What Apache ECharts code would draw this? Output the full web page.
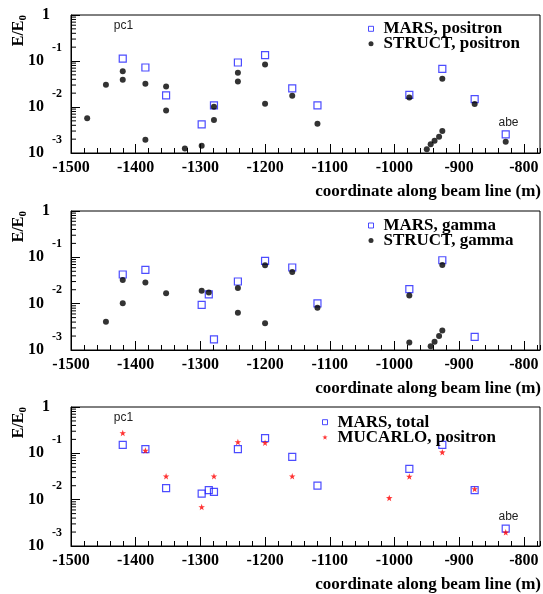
<!DOCTYPE html>
<html>
<head>
<meta charset="utf-8">
<script src="https://cdn.jsdelivr.net/npm/echarts@6/dist/echarts.min.js"></script>
<style>html,body{margin:0;padding:0;background:#fff}#c{width:543px;height:594px}</style>
</head>
<body>
<div id="c"></div>
<script>
// ---- Data (coordinate along beam line in m, E/E0) ----
const marsPosX = [-1420,-1385,-1353,-1298,-1279,-1242,-1200,-1158,-1119,-977,-926,-876,-828];
const marsPosY = [0.113,0.0723,0.0179,0.0042,0.0108,0.0927,0.134,0.0253,0.0108,0.0184,0.0674,0.0148,0.00254];
const structPosX = [-1475,-1446,-1420,-1420,-1385,-1385,-1353,-1353,-1324,-1298,-1279,-1279,-1242,-1242,-1200,-1200,-1158,-1119,-977,-926,-876,-828,-950,-944,-938,-931,-926];
const structPosY = [0.00566,0.0303,0.0601,0.0389,0.0319,0.00194,0.028,0.00844,0.00126,0.00144,0.0101,0.0052,0.0552,0.0359,0.0839,0.0117,0.0175,0.00432,0.0161,0.0409,0.0116,0.00176,0.0012,0.00155,0.00185,0.00226,0.003];

const marsGamX = [-1420,-1385,-1298,-1287,-1279,-1242,-1200,-1158,-1119,-977,-926,-876];
const marsGamY = [0.0426,0.0535,0.00942,0.0158,0.00169,0.0301,0.0836,0.0603,0.0101,0.0205,0.0866,0.00192];
const structGamX = [-1446,-1420,-1420,-1385,-1353,-1298,-1287,-1242,-1242,-1200,-1200,-1158,-1119,-977,-977,-926,-944,-938,-931,-926];
const structGamY = [0.00405,0.0326,0.01025,0.0286,0.0168,0.0189,0.0174,0.0219,0.00634,0.0676,0.0038,0.0485,0.00813,0.015,0.00146,0.0686,0.0012,0.0015,0.002,0.00264];

const marsTotX = [-1420,-1385,-1353,-1298,-1287,-1279,-1242,-1200,-1158,-1119,-977,-926,-876,-828];
const marsTotY = [0.153,0.123,0.0177,0.0135,0.016,0.0147,0.123,0.213,0.084,0.0201,0.0462,0.153,0.016,0.00236];
const mucarloX = [-1420,-1385,-1353,-1298,-1279,-1242,-1200,-1158,-1008,-977,-926,-876,-828];
const mucarloY = [0.274,0.115,0.0321,0.00695,0.0321,0.175,0.169,0.0321,0.0109,0.0315,0.106,0.017,0.00197];

const seriesNames = ['MARS, positron','STRUCT, positron','MARS, gamma','STRUCT, gamma','MARS, total','MUCARLO, positron'];
const xTitle = 'coordinate along beam line (m)';
const yTitle = 'E/E';
const xRange = [-1500, -775];
const yRange = [0.001, 1];
// minor tick values of the log axis (2..9 x each decade)
const yMinorTicks = [0.002,0.003,0.004,0.005,0.006,0.007,0.008,0.009,
                     0.02,0.03,0.04,0.05,0.06,0.07,0.08,0.09,
                     0.2,0.3,0.4,0.5,0.6,0.7,0.8,0.9];

// ---- Styling ----
const SERIF = 'Liberation Serif';
const BLUE = '#1f1fff';
const RED = '#ff0000';
const STAR = 'path://M0,-10L2.35,-3.24L9.51,-3.09L3.8,1.24L5.88,8.09L0,4L-5.88,8.09L-3.8,1.24L-9.51,-3.09L-2.35,-3.24Z';
const SQUARE = 'path://M0,0H10V10H0Z';

const grids = [
  {left:71, top:15, width:469, height:138},
  {left:71, top:211, width:469, height:139},
  {left:71, top:407, width:469, height:139}
];

function zip(xs, ys){ return xs.map((x,i)=>[x, ys[i]]); }

const xAxes = [], yAxes = [];
grids.forEach((g, gi) => {
  xAxes.push({
    type:'value', gridIndex:gi, min:xRange[0], max:xRange[1], interval:100,
    axisLine:{show:true, onZero:false, lineStyle:{color:'#000', width:1}},
    axisTick:{show:true, inside:true, length:9, lineStyle:{color:'#000', width:1}},
    splitLine:{show:false},
    axisLabel:{color:'#000', fontFamily:SERIF, fontWeight:'bold', fontSize:16, margin:7, showMaxLabel:false,
      formatter: v => String(v)}
  });
  xAxes.push({
    type:'value', gridIndex:gi, min:xRange[0], max:xRange[1], interval:20, position:'bottom',
    axisLine:{show:false}, axisLabel:{show:false}, splitLine:{show:false},
    axisTick:{show:true, inside:true, length:5, lineStyle:{color:'#000', width:1}}
  });
  yAxes.push({
    type:'log', logBase:10, gridIndex:gi, min:yRange[0], max:yRange[1],
    axisLine:{show:true, onZero:false, lineStyle:{color:'#000', width:1}},
    axisTick:{show:true, inside:true, length:9, lineStyle:{color:'#000', width:1}},
    minorTick:{show:false},
    splitLine:{show:false},
    axisLabel:{
      margin:9, color:'#000', fontFamily:SERIF, fontWeight:'bold', padding:[0,0,11,0],
      formatter: v => {
        const e = Math.round(Math.log10(v));
        return e === 0 ? '{s| }\n{one|1}' : '{s|' + e + '}\n{b|10}';
      },
      rich:{
        s:{fontSize:12, lineHeight:11, fontFamily:SERIF, fontWeight:'bold', color:'#000'},
        b:{fontSize:16, lineHeight:16, fontFamily:SERIF, fontWeight:'bold', color:'#000', padding:[0,18,0,0]},
        one:{fontSize:16, lineHeight:16, fontFamily:SERIF, fontWeight:'bold', color:'#000', padding:[0,12,0,0]}
      }
    }
  });
});

const sqStyle = {color:'rgba(0,0,0,0)', borderColor:BLUE, borderWidth:1.2};
function squares(name, gi, xs, ys){
  return {type:'scatter', name, xAxisIndex:gi*2, yAxisIndex:gi, data:zip(xs,ys), symbol:'rect', symbolSize:7,
    itemStyle:sqStyle, silent:true, z:2};
}
function dots(name, gi, xs, ys){
  return {type:'scatter', name, xAxisIndex:gi*2, yAxisIndex:gi, data:zip(xs,ys), symbol:'circle', symbolSize:6,
    itemStyle:{color:'#000'}, silent:true, z:3};
}
function stars(name, gi, xs, ys){
  return {type:'scatter', name, xAxisIndex:gi*2, yAxisIndex:gi, data:zip(xs,ys), symbol:STAR, symbolSize:6.5,
    itemStyle:{color:RED}, silent:true, z:3};
}
function minorTicks(gi){
  return {type:'custom', xAxisIndex:gi*2, yAxisIndex:gi, silent:true, z:1,
    data: yMinorTicks.map(v => [xRange[0], v]),
    renderItem: (params, api) => {
      const p = api.coord([api.value(0), api.value(1)]);
      return {type:'line', shape:{x1:p[0], y1:p[1], x2:p[0]+5, y2:p[1]}, style:{stroke:'#000', lineWidth:1}};
    }
  };
}

const series = [
  minorTicks(0), minorTicks(1), minorTicks(2),
  squares(seriesNames[0], 0, marsPosX, marsPosY),
  dots(seriesNames[1], 0, structPosX, structPosY),
  squares(seriesNames[2], 1, marsGamX, marsGamY),
  dots(seriesNames[3], 1, structGamX, structGamY),
  squares(seriesNames[4], 2, marsTotX, marsTotY),
  stars(seriesNames[5], 2, mucarloX, mucarloY)
];

function legend(left, top, names, kinds){
  return {
    show:true, orient:'vertical', left, top, padding:0, itemWidth:15, itemHeight:5, itemGap:-2,
    selectedMode:false,
    textStyle:{fontFamily:SERIF, fontWeight:'bold', fontSize:17, lineHeight:16, color:'#000'},
    data: names.map((n,i)=>{
      const k = kinds[i];
      if (k === 'sq') return {name:n, icon:SQUARE, itemStyle:{color:'rgba(0,0,0,0)', borderColor:BLUE, borderWidth:1}};
      if (k === 'dot') return {name:n, icon:'circle', itemStyle:{color:'#000'}};
      return {name:n, icon:STAR, itemStyle:{color:RED}};
    })
  };
}

const legends = [
  legend(368, 20.3, [seriesNames[0], seriesNames[1]], ['sq','dot']),
  legend(368, 217, [seriesNames[2], seriesNames[3]], ['sq','dot']),
  legend(322, 413.7, [seriesNames[4], seriesNames[5]], ['sq','star'])
];

const graphics = [];
grids.forEach(g => {
  graphics.push({
    type:'text', x:19, y:g.top, rotation:Math.PI/2,
    style:{text:'{m|' + yTitle + '}{sub|0}', align:'right', verticalAlign:'middle',
      rich:{
        m:{fontFamily:SERIF, fontWeight:'bold', fontSize:16, lineHeight:20, fill:'#000'},
        sub:{fontFamily:SERIF, fontWeight:'bold', fontSize:11, lineHeight:10, verticalAlign:'bottom', fill:'#000'}
      }}
  });
  graphics.push({
    type:'text', x:541, y:g.top + g.height + 39,
    style:{text:xTitle, align:'right', verticalAlign:'middle', fontFamily:SERIF, fontWeight:'bold', fontSize:17, fill:'#000'}
  });
});
const annot = {fontFamily:'Liberation Sans', fontSize:12, fill:'#222', align:'center', verticalAlign:'middle'};
graphics.push({type:'text', x:123.5, y:26, style:Object.assign({text:'pc1'}, annot)});
graphics.push({type:'text', x:508.5, y:123, style:Object.assign({text:'abe'}, annot)});
graphics.push({type:'text', x:123.5, y:417.5, style:Object.assign({text:'pc1'}, annot)});
graphics.push({type:'text', x:508.5, y:516.5, style:Object.assign({text:'abe'}, annot)});

const chart = echarts.init(document.getElementById('c'), null, {renderer:'canvas'});
chart.setOption({
  animation:false,
  backgroundColor:'#fff',
  grid: grids.map(g => Object.assign({show:true, borderColor:'#000', borderWidth:1, backgroundColor:'rgba(0,0,0,0)', containLabel:false, outerBoundsMode:'none'}, g)),
  xAxis: xAxes,
  yAxis: yAxes,
  legend: legends,
  series,
  graphic: graphics
});
</script>
</body>
</html>
